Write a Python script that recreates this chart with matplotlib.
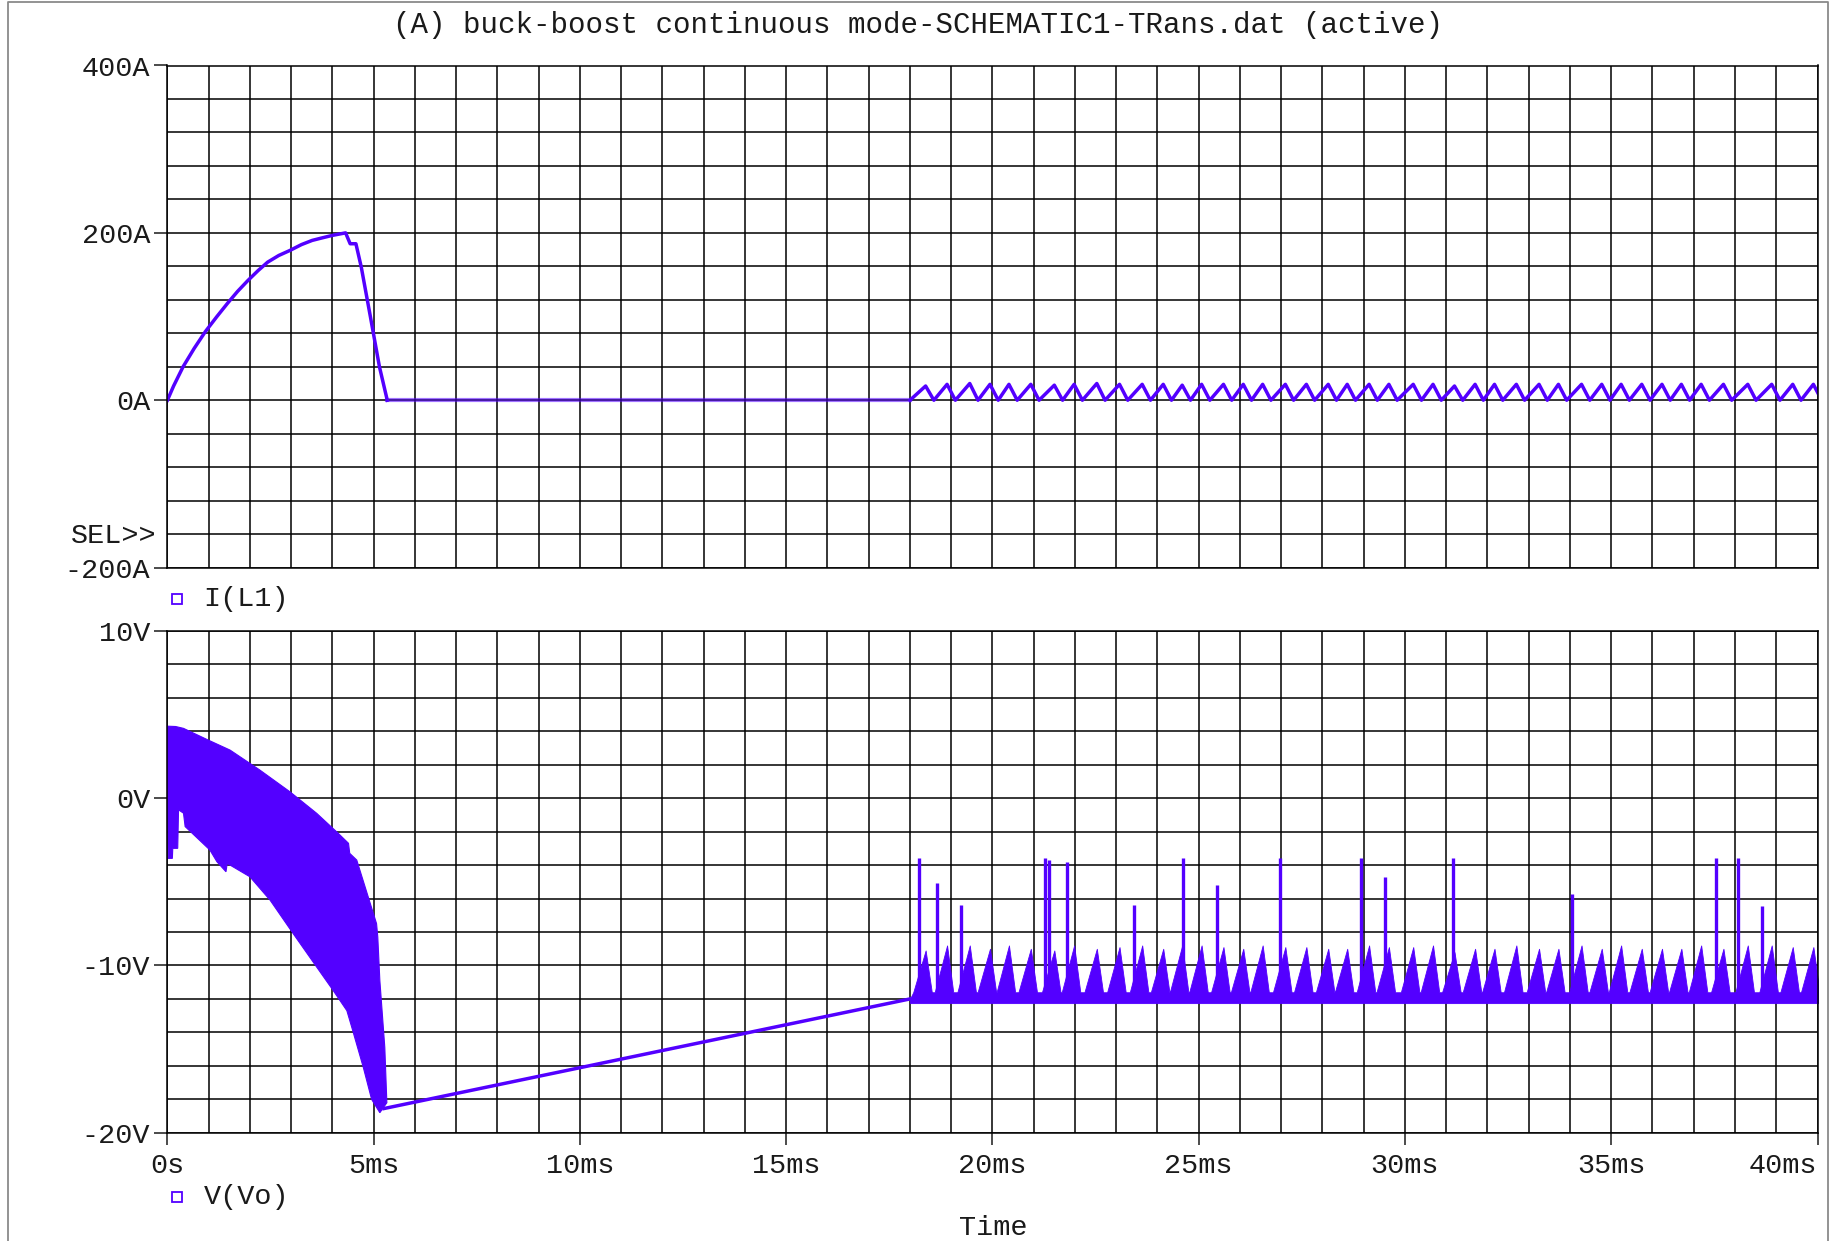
import numpy as np
import matplotlib.pyplot as plt
from matplotlib.lines import Line2D

plt.rcParams['font.family'] = ['Liberation Mono', 'DejaVu Sans Mono']

TRACE = '#5300ff'
INK = '#1a1a1a'
FS = 20.5

# time axis (ms)
time_ticks_ms = [0, 5, 10, 15, 20, 25, 30, 35, 40]
time_tick_labels = ['0s', '5ms', '10ms', '15ms', '20ms', '25ms', '30ms', '35ms', '40ms']

il_ticks = [-200, 0, 200, 400]
il_tick_labels = ['-200A', '0A', '200A', '400A']
vo_ticks = [-20, -10, 0, 10]
vo_tick_labels = ['-20V', '-10V', '0V', '10V']

# I(L1) start-up hump
il_start_ms = [0, 0.15, 0.38, 0.65, 0.92, 1.2, 1.46, 1.7, 1.95, 2.2, 2.43, 2.7, 2.97, 3.25,
               3.51, 3.75, 4.0, 4.32, 4.43, 4.57, 4.7, 4.92, 5.14, 5.33]
il_start_a = [0, 17, 40, 62, 82, 100, 116, 130, 143, 155, 165, 173, 179, 186,
              191, 194, 197, 200, 187, 187, 159, 100, 40, 0]
il_idle_ms = [5.33, 18.0]
il_idle_a = [0, 0]

# ripple peak instants, same for both traces (ms)
ripple_peak_ms = [18.38, 18.9, 19.45, 19.94, 20.4, 20.93, 21.5, 21.98, 22.53, 23.08,
                  23.63, 24.14, 24.6, 25.07, 25.6, 26.08, 26.55, 27.1, 27.61, 28.14,
                  28.6, 29.13, 29.61, 30.2, 30.68, 31.2, 31.7, 32.17, 32.7, 33.25,
                  33.72, 34.28, 34.77, 35.24, 35.74, 36.23, 36.7, 37.18, 37.72, 38.31,
                  38.89, 39.4, 39.9]
il_ripple_peak_a = [17, 19, 20, 19, 19, 19, 18, 19, 20, 19,
                    19, 19, 18, 19, 19, 19, 19, 19, 19, 19,
                    19, 19, 19, 19, 19, 17, 19, 19, 19, 19,
                    19, 19, 19, 19, 19, 19, 19, 19, 19, 19,
                    19, 19, 19]
vo_ripple_peak_v = [-9.1, -8.8, -8.8, -9.0, -8.8, -9.0, -9.1, -8.8, -9.0, -8.9,
                    -8.8, -9.0, -8.8, -8.8, -8.9, -9.0, -8.8, -8.9, -8.9, -9.0,
                    -9.0, -8.8, -8.9, -8.9, -8.8, -9.2, -9.0, -9.0, -8.8, -9.0,
                    -9.0, -8.8, -9.0, -8.8, -9.0, -9.0, -9.0, -8.8, -9.0, -8.8,
                    -8.8, -8.9, -8.9]
rise_ms = 0.3
fall_ms = 0.15

# V(Vo) switching band during start-up
vo_top_ms = [0, 0.2, 0.39, 0.99, 1.52, 2.24, 2.97, 3.62, 4.14, 4.39, 4.42, 4.59, 5.07, 5.10,
             5.15, 5.27, 5.32]
vo_top_v = [4.3, 4.28, 4.17, 3.47, 2.87, 1.68, 0.38, -0.91, -2.1, -2.7, -3.3, -3.7, -7.5, -8.3,
            -10.9, -14.9, -18.2]
vo_bot_ms = [0, 0.02, 0.12, 0.13, 0.25, 0.27, 0.39, 0.43, 1.03, 1.2, 1.42, 1.45, 2.0, 2.49,
             3.05, 3.62, 4.02, 4.35, 4.47, 4.75, 4.95, 5.15]
vo_bot_v = [-0.3, -3.6, -3.6, -3.0, -3.0, -0.7, -0.9, -1.7, -3.1, -3.8, -4.4, -3.9, -4.7, -6.1,
            -8.1, -10.1, -11.5, -12.7, -13.7, -16.1, -18.0, -18.8]

# recovery ramp
vo_ramp_ms = [5.25, 18.0]
vo_ramp_v = [-18.55, -12.0]
vo_floor_v = -12.25
vo_shoulder_v = -11.6

# isolated spikes on V(Vo)
spike_ms = [18.21, 18.66, 19.23, 21.28, 21.37, 21.81, 23.42, 24.61, 25.44, 26.97,
            28.94, 29.52, 31.17, 34.04, 37.55, 38.08, 38.65]
spike_v = [-3.6, -5.1, -6.4, -3.6, -3.7, -3.8, -6.4, -3.6, -5.2, -3.6,
           -3.6, -4.7, -3.6, -5.7, -3.6, -3.6, -6.45]

W, H = 1835, 1241
fig = plt.figure(figsize=(W / 100, H / 100), dpi=100)
fig.patch.set_facecolor('white')

left = 167.4 / W
width = (1817.5 - 167.4) / W
ax_i = fig.add_axes([left, 1 - 567.6 / H, width, 502.1 / H])
ax_v = fig.add_axes([left, 1 - 1132.8 / H, width, 502.0 / H])


def style_grid(ax, ymin, ymax, ystep):
    ax.set_xlim(0, 40)
    ax.set_ylim(ymin, ymax)
    ax.set_xticks(np.arange(0, 41, 1), minor=True)
    ax.set_yticks(np.arange(ymin, ymax + ystep / 2, ystep), minor=True)
    ax.set_axisbelow(True)
    ax.grid(which='both', color='black', lw=1.1)
    for s in ax.spines.values():
        s.set_color('black')
        s.set_linewidth(1.1)
    ax.tick_params(which='minor', length=0)
    ax.tick_params(axis='y', which='major', length=9.5, width=1.1, pad=3,
                   labelsize=FS, colors=INK)


style_grid(ax_i, -200, 400, 40)
ax_i.set_yticks(il_ticks)
ax_i.set_yticklabels(il_tick_labels)
ax_i.set_xticks(time_ticks_ms)
ax_i.tick_params(axis='x', which='both', length=0, labelbottom=False)

style_grid(ax_v, -20, 10, 2)
ax_v.set_yticks(vo_ticks)
ax_v.set_yticklabels(vo_tick_labels)
ax_v.set_xticks(time_ticks_ms)
ax_v.set_xticklabels(time_tick_labels)
ax_v.tick_params(axis='x', which='major', length=8.5, width=1.1, pad=6,
                 labelsize=FS, colors=INK)
# last time label sits flush with the right edge
ax_v.get_xticklabels()[-1].set_horizontalalignment('right')

# I(L1)
ax_i.plot(il_start_ms, il_start_a, color=TRACE, lw=2.5)
ax_i.plot(il_idle_ms, il_idle_a, color=TRACE, lw=3, alpha=0.55)
ri_t, ri_a = [18.0], [0.0]
for tp, ap in zip(ripple_peak_ms, il_ripple_peak_a):
    ri_t += [tp, tp + 0.2]
    ri_a += [ap, 0.0]
ax_i.plot(ri_t, ri_a, color=TRACE, lw=2.5)

# V(Vo)
ax_v.fill(np.r_[vo_top_ms, vo_bot_ms[::-1]], np.r_[vo_top_v, vo_bot_v[::-1]],
          color=TRACE, lw=0.8)
ax_v.plot(vo_ramp_ms, vo_ramp_v, color=TRACE, lw=2.5)
rv_t, rv_v = [18.0], [-12.0]
for tp, vp in zip(ripple_peak_ms, vo_ripple_peak_v):
    rv_t += [tp - rise_ms, tp, tp + fall_ms]
    rv_v += [vo_shoulder_v, vp, vo_shoulder_v]
ax_v.fill_between(rv_t, vo_floor_v, rv_v, color=TRACE, lw=0.6)
ax_v.vlines(spike_ms, vo_shoulder_v, spike_v, color=TRACE, lw=2.4)

# labels around the plots
fig.text(0.5, 1 - 24.6 / H,
         '(A) buck-boost continuous mode-SCHEMATIC1-TRans.dat (active)',
         ha='center', va='center', fontsize=21, color=INK)
fig.text(156.5 / W, 1 - 536 / H, 'SEL>>', ha='right', va='center', fontsize=FS, color=INK)
fig.text(993.6 / W, 1 - 1228 / H, 'Time', ha='center', va='center', fontsize=FS, color=INK)

for ly, name in [(599, 'I(L1)'), (1197, 'V(Vo)')]:
    fig.add_artist(Line2D([176.7 / W], [1 - ly / H], marker='s', ms=7, mfc='white',
                          mec=TRACE, mew=1.3, ls='none', transform=fig.transFigure))
    fig.text(203.6 / W, 1 - ly / H, name, ha='left', va='center', fontsize=FS, color=INK)

# outer window frame
fx0, fx1, fy1 = 8 / W, 1828 / W, 1 - 2 / H
fig.add_artist(Line2D([fx0, fx0, fx1, fx1], [-0.01, fy1, fy1, -0.01], color='#8a8a8a',
                      lw=1.3, transform=fig.transFigure))

fig.savefig('out.png', dpi=100, facecolor='white')
